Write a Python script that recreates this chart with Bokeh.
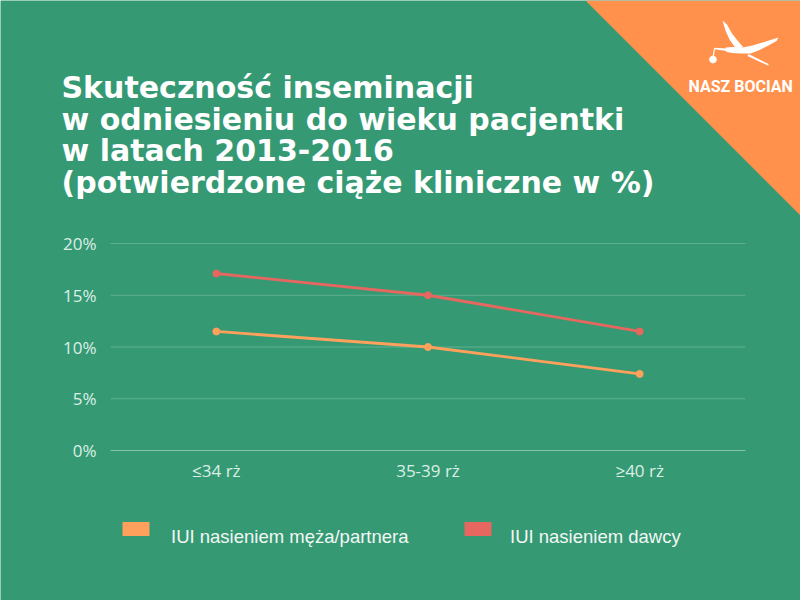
from bokeh.plotting import figure
from bokeh.models import (Range1d, FixedTicker, PrintfTickFormatter, ColumnDataSource)
from bokeh.core.properties import value
from bokeh.embed import file_html
from bokeh.resources import INLINE

# ---------------- data ----------------
categories = ["≤34 rż", "35-39 rż", "≥40 rż"]
partner = [11.5, 10.0, 7.4]     # IUI nasieniem męża/partnera (%)
donor = [17.1, 15.0, 11.5]      # IUI nasieniem dawcy (%)
series_names = ["IUI nasieniem męża/partnera", "IUI nasieniem dawcy"]
y_ticks = [0, 5, 10, 15, 20]
title_lines = ["Skuteczność  inseminacji",
               "w odniesieniu do wieku pacjentki",
               "w latach 2013-2016",
               "(potwierdzone ciąże kliniczne w %)"]
logo_text = "NASZ BOCIAN"

# ---------------- style ----------------
GREEN = "#359a74"
ORANGE_BG = "#ff914d"
ORANGE = "#ffa05c"
RED = "#e5675f"
GRID = "#5eaf8f"
ZERO = "#86c3aa"
TICK = "#dcefe6"

W, H = 800, 600
FL, FR, FT, FB = 110, 745, 243, 450   # chart area edges in canvas pixels
N = len(categories)
YMAX = y_ticks[-1]


def X(px):
    return -0.5 + (px - FL) * N / (FR - FL)


def Y(py):
    return (FB - py) * YMAX / (FB - FT)


p = figure(width=W, height=H, output_backend="svg", toolbar_location=None,
           x_range=Range1d(X(0), X(W)), y_range=Range1d(Y(H), Y(0)), min_border=0)
p.background_fill_color = GREEN
p.border_fill_color = GREEN
p.outline_line_color = None
p.grid.visible = False
# pixel-space ranges for the decorative header
p.extra_x_ranges = {"px": Range1d(0, W)}
p.extra_y_ranges = {"px": Range1d(H, 0)}

# ---------------- axes (drawn inside the canvas) ----------------
p.yaxis.fixed_location = -0.5
p.yaxis.ticker = FixedTicker(ticks=y_ticks)
p.yaxis.formatter = PrintfTickFormatter(format="%d%%")
p.xaxis.fixed_location = 0
p.xaxis.ticker = FixedTicker(ticks=list(range(N)))
p.xaxis.major_label_overrides = {i: c for i, c in enumerate(categories)}
for ax in (p.xaxis, p.yaxis):
    ax.axis_line_color = None
    ax.major_tick_line_color = None
    ax.minor_tick_line_color = None
    ax.major_tick_out = 0
    ax.minor_tick_out = 0
    ax.major_tick_in = 0
    ax.minor_tick_in = 0
    ax.major_label_text_font = "Open Sans"
    ax.major_label_text_font_size = "17px"
    ax.major_label_text_color = TICK
p.yaxis.major_label_standoff = 14
p.xaxis.major_label_standoff = 8

# gridlines across the chart area only
grid_src = ColumnDataSource(dict(
    x0=[-0.5] * len(y_ticks), x1=[N - 0.5] * len(y_ticks), y=y_ticks,
    c=[ZERO if t == 0 else GRID for t in y_ticks]))
p.segment(x0="x0", x1="x1", y0="y", y1="y", line_color="c", line_width=1, source=grid_src)

# ---------------- series ----------------
xs = list(range(N))
p.line(xs, partner, line_color=ORANGE, line_width=2.8)
p.scatter(xs, partner, size=7, color=ORANGE)
p.line(xs, donor, line_color=RED, line_width=2.8)
p.scatter(xs, donor, size=7, color=RED)

# ---------------- legend ----------------
leg_src = ColumnDataSource(dict(
    left=[122, 464], right=[149, 491], top=[521.5, 521.5], bottom=[535.5, 535.5],
    tx=[170.5, 509.5], ty=[535.6, 535.6], color=[ORANGE, RED], label=series_names))
p.quad(left="left", right="right", top="top", bottom="bottom", fill_color="color",
       line_color=None, source=leg_src, x_range_name="px", y_range_name="px")
p.text(x="tx", y="ty", text="label", source=leg_src, x_range_name="px", y_range_name="px",
       text_font=value("Liberation Sans"), text_font_size="18.5px", text_color="#f2f7f4",
       text_baseline="alphabetic")

# ---------------- header: corner, title, logo ----------------
p.patch([585, W + 20, W + 20], [0, 0, 235], fill_color=ORANGE_BG, line_color=None,
        x_range_name="px", y_range_name="px")

title_src = ColumnDataSource(dict(
    x=[61] * len(title_lines),
    y=[87 + i * 31.5 for i in range(len(title_lines))],
    text=title_lines))
p.text(x="x", y="y", text="text", source=title_src, x_range_name="px", y_range_name="px",
       text_font=value("DejaVu Sans"), text_font_style="bold", text_font_size="30px",
       text_color="white", text_baseline="alphabetic")

stork_parts = [
    [(725, 47), (733, 46.5), (742, 47), (752, 45), (762, 42), (770, 39.5), (778, 37),
     (776, 40.5), (768, 45), (758, 50), (750, 53), (740, 53), (732, 52.5), (726, 51.5)],
    [(726, 48), (714, 47.3), (714, 48.8), (726, 50.5)],
    [(722, 20), (726.5, 24), (731.5, 33), (737, 40), (743, 47), (735, 47.5), (729, 39),
     (725, 30)],
    [(748, 53.5), (768, 63.5), (768, 65.3), (747, 55.5)],
    [(713.4, 48), (714.6, 48), (713.4, 55.5), (712.2, 55.5)],
    [(716.5, 59), (715.3, 61.8), (712.5, 63), (709.7, 61.8), (708.5, 59), (709.7, 56.2),
     (712.5, 55), (715.3, 56.2)],
]
p.patches([[a for a, b in part] for part in stork_parts],
          [[b for a, b in part] for part in stork_parts],
          fill_color="white", line_color=None, x_range_name="px", y_range_name="px")
p.text(x=[688], y=[86], text=[logo_text], x_range_name="px", y_range_name="px",
       text_font=value("Roboto"), text_font_style="bold", text_font_size="16px",
       text_color="white", text_baseline="alphabetic")

open("out.html", "w").write(file_html(p, INLINE))
